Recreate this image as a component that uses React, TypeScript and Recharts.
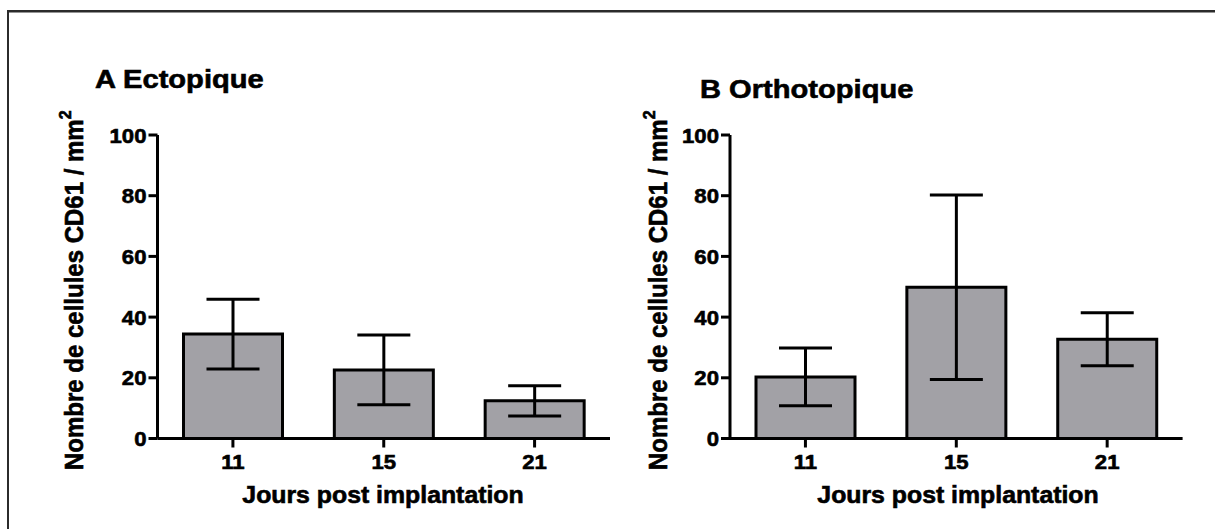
import React from 'react'
import { BarChart, Bar, XAxis, YAxis, ErrorBar, Customized } from 'recharts'

// CD61 cell density per mm² by day post implantation, mean ± error
const DAYS = ['11', '15', '21']
const ECTO_MEAN = [34.4, 22.6, 12.4]
const ECTO_ERR = [11.5, 11.5, 5.0]
const ORTHO_MEAN = [20.3, 49.8, 32.7]
const ORTHO_ERR = [9.5, 30.4, 8.7]
const Y_TICKS = [0, 20, 40, 60, 80, 100]

const W = 1215
const H = 529
const FONT = '"Liberation Sans", Arial, Helvetica, sans-serif'
const STRETCH = 1.08
const BAR_FILL = '#a2a1a6'

const ectoData = DAYS.map((d, i) => ({ day: d, mean: ECTO_MEAN[i], err: ECTO_ERR[i] }))
const orthoData = DAYS.map((d, i) => ({ day: d, mean: ORTHO_MEAN[i], err: ORTHO_ERR[i] }))

// heavy black text, a touch bolder than plain bold
const ink = { fontWeight: 'bold', fill: '#000', stroke: '#000', strokeWidth: 0.6, fontFamily: FONT }

function YTick({ x, y, payload }: any) {
  return (
    <g transform={`translate(${x},${y}) scale(${STRETCH},1)`}>
      <text x={0} y={0} dy={7.5} textAnchor="end" fontSize={20.5} {...ink}>
        {payload.value}
      </text>
    </g>
  )
}

function XTick({ x, y, payload }: any) {
  return (
    <g transform={`translate(${x},${y}) scale(${STRETCH},1)`}>
      <text x={0} y={0} dy={20} textAnchor="middle" fontSize={20.5} {...ink}>
        {payload.value}
      </text>
    </g>
  )
}

type PanelTextProps = { title: string; titleX: number; titleY: number; yLabelX: number; xLabelX: number }

function PanelText({ title, titleX, titleY, yLabelX, xLabelX }: PanelTextProps) {
  return (
    <g>
      <g transform={`translate(${titleX},${titleY}) scale(1.12,1)`}>
        <text x={0} y={0} fontSize={26} {...ink}>{title}</text>
      </g>
      <g transform={`translate(${yLabelX},470) scale(${STRETCH},1) rotate(-90)`}>
        <text x={0} y={0} fontSize={24} textAnchor="start" {...ink}>
          Nombre de cellules CD61 / mm
          <tspan fontSize={16} dy={-11}>2</tspan>
        </text>
      </g>
      <g transform={`translate(${xLabelX},502.5) scale(${STRETCH},1)`}>
        <text x={0} y={0} fontSize={23} textAnchor="middle" {...ink}>Jours post implantation</text>
      </g>
    </g>
  )
}

const axisStroke = { stroke: '#000', strokeWidth: 3 }

function Panel({ data, left, right, text }: { data: any[]; left: number; right: number; text: PanelTextProps }) {
  return (
    <div style={{ position: 'absolute', left: 0, top: 0 }}>
      <BarChart width={W} height={H} data={data} margin={{ top: 135, left: left - 100, right: W - right, bottom: 30.5 }}>
        <XAxis
          dataKey="day"
          height={60}
          axisLine={axisStroke}
          tickLine={axisStroke}
          tickSize={9}
          tick={<XTick />}
          interval={0}
        />
        <YAxis
          width={100}
          domain={[0, 100]}
          ticks={Y_TICKS}
          axisLine={axisStroke}
          tickLine={axisStroke}
          tickSize={9}
          tick={<YTick />}
          interval={0}
        />
        <Bar dataKey="mean" fill={BAR_FILL} stroke="#000" strokeWidth={3} barSize={99} isAnimationActive={false}>
          <ErrorBar dataKey="err" width={26.5} strokeWidth={3} stroke="#000" direction="y" isAnimationActive={false} />
        </Bar>
        <Customized component={<PanelText {...text} />} />
      </BarChart>
    </div>
  )
}

export default function App() {
  return (
    <div style={{ position: 'fixed', left: 0, top: 0, width: W, height: H, overflow: 'hidden', background: '#fff' }}>
      {/* page frame: top and left edges only */}
      <svg width={W} height={H} style={{ position: 'absolute', left: 0, top: 0 }}>
        <line x1={8} y1={11.3} x2={W} y2={11.3} stroke="#2b2b2b" strokeWidth={2.5} />
        <line x1={8} y1={10} x2={8} y2={H} stroke="#2b2b2b" strokeWidth={2} />
      </svg>
      <Panel
        data={ectoData}
        left={157.5}
        right={610}
        text={{ title: 'A Ectopique', titleX: 95, titleY: 88.3, yLabelX: 83.3, xLabelX: 383 }}
      />
      <Panel
        data={orthoData}
        left={730}
        right={1182.6}
        text={{ title: 'B Orthotopique', titleX: 700, titleY: 97.7, yLabelX: 666.7, xLabelX: 958 }}
      />
    </div>
  )
}
